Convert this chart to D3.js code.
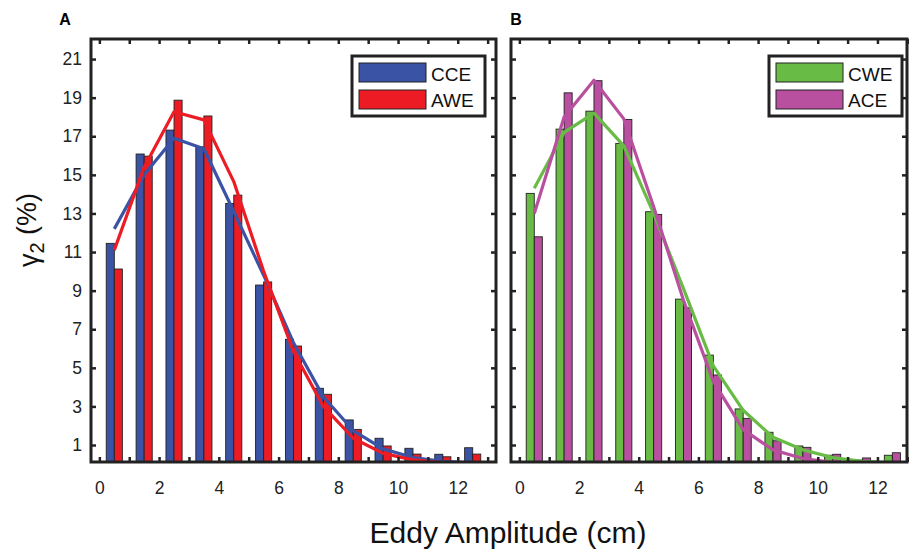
<!DOCTYPE html>
<html>
<head>
<meta charset="utf-8">
<script src="https://cdn.jsdelivr.net/npm/d3@7"></script>
<style>
  body { margin: 0; background: #fff; }
  svg { display: block; font-family: "Liberation Sans", Arial, sans-serif; }
  .axis text { font-size: 17.5px; fill: #222; }
  .axis line { stroke: #222; stroke-width: 2.5; }
  .axis .domain { display: none; }
</style>
</head>
<body>
<div id="chart"></div>
<script>
// Bin centres of eddy amplitude (cm).
var bins = [0.5, 1.5, 2.5, 3.5, 4.5, 5.5, 6.5, 7.5, 8.5, 9.5, 10.5, 11.5, 12.5];

// Panel A: histogram (%) and fitted curves.
var cce    = [11.45, 16.08, 17.32, 16.45, 13.52, 9.29, 6.48, 3.94, 2.30, 1.35, 0.83, 0.52, 0.86];
var awe    = [10.12, 15.97, 18.87, 18.05, 13.95, 9.45, 6.13, 3.63, 1.81, 0.95, 0.53, 0.39, 0.53];
var cceFit = [12.2, 15.0, 16.9, 16.35, 13.1, 9.8, 6.3, 3.5, 1.75, 0.8, 0.35, 0.15, 0.07];
var aweFit = [11.1, 15.4, 18.27, 17.85, 14.65, 10.0, 5.85, 3.0, 1.35, 0.57, 0.23, 0.09, 0.03];

// Panel B.
var cwe    = [14.04, 17.37, 18.3, 16.63, 13.09, 8.56, 5.66, 2.87, 1.66, 0.95, 0.47, 0.22, 0.47];
var ace    = [11.79, 19.25, 19.88, 17.87, 12.95, 8.11, 4.63, 2.38, 1.22, 0.88, 0.52, 0.33, 0.60];
var cweFit = [14.3, 17.2, 18.2, 16.5, 13.0, 9.1, 5.1, 2.8, 1.4, 0.75, 0.35, 0.15, 0.07];
var aceFit = [13.0, 18.0, 19.9, 17.9, 13.35, 8.5, 4.3, 1.8, 0.75, 0.3, 0.1, 0.04, 0.01];

// Tick values.
var xTicks = d3.range(0, 14);
var xTickLabels = [0, 2, 4, 6, 8, 10, 12];
var yTicks = [1, 3, 5, 7, 9, 11, 13, 15, 17, 19, 21];

var panels = [
  {id: 'A', names: ['CCE', 'AWE'], colors: ['#3b53a4', '#ed1c24'],
   bars: [cce, awe], fits: [cceFit, aweFit],
   left: 91, right: 496, xMax: 13.28, legendX: 352, showY: true},
  {id: 'B', names: ['CWE', 'ACE'], colors: ['#68bc45', '#b84f9f'],
   bars: [cwe, ace], fits: [cweFit, aceFit],
   left: 511, right: 907, xMax: 12.99, legendX: 769, showY: false}
];

var width = 909, height = 549;
var top0 = 39, bottom0 = 462;
var barW = 0.27;   // one bar's width, in cm

var svg = d3.select('#chart').append('svg')
    .attr('width', width)
    .attr('height', height);

var y = d3.scaleLinear().domain([0.12, 22.04]).range([bottom0, top0]);

panels.forEach(function(p, pi) {
  var x = d3.scaleLinear().domain([-0.28, p.xMax]).range([p.left, p.right]);
  var g = svg.append('g');

  g.append('clipPath').attr('id', 'clip' + pi)
    .append('rect')
      .attr('x', p.left).attr('y', top0)
      .attr('width', p.right - p.left).attr('height', bottom0 - top0);

  var plot = g.append('g').attr('clip-path', 'url(#clip' + pi + ')');

  // grouped bars: first series left of the bin centre, second right of it
  p.bars.forEach(function(vals, si) {
    plot.selectAll('.bar' + si)
      .data(vals)
      .enter().append('rect')
        .attr('class', 'bar' + si)
        .attr('x', function(d, i) { return x(bins[i] + (si - 1) * barW); })
        .attr('y', function(d) { return y(d); })
        .attr('width', x(barW) - x(0))
        .attr('height', function(d) { return bottom0 - y(d) + 2; })
        .attr('fill', p.colors[si])
        .attr('stroke', '#222')
        .attr('stroke-width', 0.9);
  });

  var line = d3.line()
      .x(function(d, i) { return x(bins[i]); })
      .y(function(d) { return y(d); });

  p.fits.forEach(function(vals, si) {
    plot.append('path')
      .datum(vals)
      .attr('d', line)
      .attr('fill', 'none')
      .attr('stroke', p.colors[si])
      .attr('stroke-width', 3.2)
      .attr('stroke-linejoin', 'round');
  });

  // axes, ticks pointing inward
  g.append('g').attr('class', 'axis')
    .attr('transform', 'translate(0,' + bottom0 + ')')
    .call(d3.axisBottom(x).tickValues(xTicks).tickSize(-5).tickSizeOuter(0).tickPadding(20)
      .tickFormat(function(d) { return xTickLabels.indexOf(d) >= 0 ? d : ''; }));

  g.append('g').attr('class', 'axis')
    .attr('transform', 'translate(0,' + top0 + ')')
    .call(d3.axisTop(x).tickValues(xTicks).tickSize(-5).tickSizeOuter(0).tickFormat(''));

  g.append('g').attr('class', 'axis')
    .attr('transform', 'translate(' + p.left + ',0)')
    .call(d3.axisLeft(y).tickValues(yTicks).tickSize(-5).tickSizeOuter(0).tickPadding(9)
      .tickFormat(p.showY ? d3.format('d') : ''));

  g.append('g').attr('class', 'axis')
    .attr('transform', 'translate(' + p.right + ',0)')
    .call(d3.axisRight(y).tickValues(yTicks).tickSize(-5).tickSizeOuter(0).tickFormat(''));

  g.selectAll('.axis text').attr('font-family', null);

  // frame
  g.append('rect')
    .attr('x', p.left).attr('y', top0)
    .attr('width', p.right - p.left).attr('height', bottom0 - top0)
    .attr('fill', 'none')
    .attr('stroke', '#222')
    .attr('stroke-width', 3);

  // legend
  var lg = g.append('g').attr('transform', 'translate(' + p.legendX + ',56)');
  lg.append('rect')
    .attr('width', 133).attr('height', 60)
    .attr('fill', '#fff')
    .attr('stroke', '#222')
    .attr('stroke-width', 3);

  p.names.forEach(function(name, si) {
    lg.append('rect')
      .attr('x', 7).attr('y', 7 + si * 27)
      .attr('width', 67).attr('height', 19)
      .attr('fill', p.colors[si])
      .attr('stroke', '#222')
      .attr('stroke-width', 1);
    lg.append('text')
      .attr('x', 79).attr('y', 24.5 + si * 26.5)
      .attr('font-size', 19)
      .attr('fill', '#111')
      .text(name);
  });

  // panel letter
  svg.append('text')
    .attr('x', p.left - 26 + pi * 31).attr('y', 25)
    .attr('text-anchor', 'middle')
    .attr('font-size', 16)
    .attr('font-weight', 'bold')
    .text(p.id);
});

// axis titles
svg.append('text')
  .attr('x', 508).attr('y', 543)
  .attr('text-anchor', 'middle')
  .attr('font-size', 30)
  .attr('fill', '#111')
  .text('Eddy Amplitude (cm)');

var yl = svg.append('text')
  .attr('transform', 'translate(38,230) rotate(-90)')
  .attr('text-anchor', 'middle')
  .attr('font-size', 27)
  .attr('fill', '#111');
yl.append('tspan').text('\u03b3');
yl.append('tspan').attr('font-size', 20).attr('dy', '0.3em').text('2');
yl.append('tspan').attr('dy', '-0.3em').text(' (%)');
</script>
</body>
</html>
